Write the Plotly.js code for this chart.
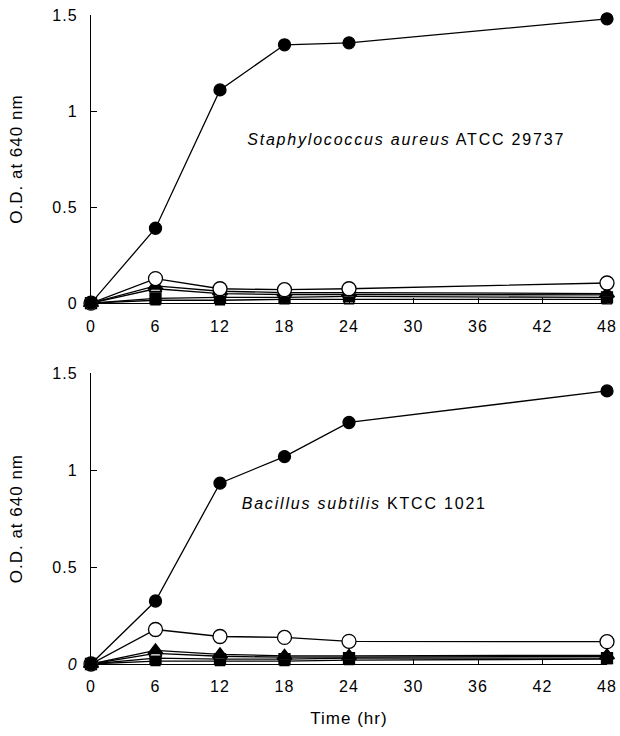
<!DOCTYPE html>
<html>
<head>
<meta charset="utf-8">
<script src="https://cdn.plot.ly/plotly-3.0.1.min.js"></script>
<style>
html,body{margin:0;padding:0;background:#fff;}
#chart{width:620px;height:736px;}
#chart svg text{letter-spacing:1px;}
#chart svg .annotation text{letter-spacing:1.8px;}
</style>
</head>
<body>
<div id="chart"></div>
<script>
// Time points (hr)
const timeHr = [0, 6, 12, 18, 24, 48];
const xTicks = [0, 6, 12, 18, 24, 30, 36, 42, 48];

// Top panel: Staphylococcus aureus ATCC 29737
const staFilledCircle = [0, 0.39, 1.11, 1.345, 1.355, 1.48];
const staOpenCircle   = [0, 0.128, 0.075, 0.07, 0.075, 0.105];
const staFilledTri    = [0, 0.09, 0.062, 0.055, 0.055, 0.05];
const staOpenTri      = [0, 0.075, 0.05, 0.045, 0.045, 0.043];
const staFilledSq     = [0, 0.025, 0.03, 0.03, 0.035, 0.03];
const staOpenSq       = [0, 0.015, 0.015, 0.02, 0.02, 0.02];

// Bottom panel: Bacillus subtilis KTCC 1021
const bacFilledCircle = [0, 0.325, 0.933, 1.07, 1.246, 1.409];
const bacOpenCircle   = [0, 0.178, 0.142, 0.137, 0.117, 0.115];
const bacFilledTri    = [0, 0.07, 0.05, 0.042, 0.042, 0.045];
const bacOpenTri      = [0, 0.055, 0.04, 0.035, 0.035, 0.04];
const bacFilledSq     = [0, 0.03, 0.025, 0.025, 0.03, 0.03];
const bacOpenSq       = [0, 0.015, 0.015, 0.015, 0.02, 0.025];

const yTicks = [0, 0.5, 1, 1.5];
const yTickTextTop = ['0', '0.5', '1', '1.5'];
const yTickTextBottom = ['<i>0</i>', '0.5', '1', '1.5'];

const FONT = '"Liberation Sans", Arial, sans-serif';

function tr(y, ax, symbol, size, fill, lw) {
  return {
    x: timeHr, y: y, xaxis: ax[0], yaxis: ax[1],
    type: 'scatter', mode: 'lines+markers', cliponaxis: false,
    line: {color: '#000', width: lw || 1.3},
    marker: {symbol: symbol, size: size, color: fill, line: {color: '#000', width: 1.3}},
    showlegend: false, hoverinfo: 'skip'
  };
}

function panel(ax, fc, oc, ft, ot, fs, os) {
  return [
    tr(os, ax, 'square', 9, '#fff'),
    tr(fs, ax, 'square', 11, '#000'),
    tr(ot, ax, 'triangle-up', 11, '#fff'),
    tr(ft, ax, 'triangle-up', 13, '#000'),
    tr(oc, ax, 'circle', 14, '#fff'),
    tr(fc, ax, 'circle', 12, '#000')
  ];
}

const data = [].concat(
  panel(['x', 'y'], staFilledCircle, staOpenCircle, staFilledTri, staOpenTri, staFilledSq, staOpenSq),
  panel(['x2', 'y2'], bacFilledCircle, bacOpenCircle, bacFilledTri, bacOpenTri, bacFilledSq, bacOpenSq)
);

const xBase = {
  range: [0, 48], tickvals: xTicks, ticktext: xTicks.map(String),
  showline: true, linecolor: '#000', linewidth: 1.2,
  ticks: 'inside', ticklen: 5, tickcolor: '#000', tickwidth: 1,
  showgrid: false, zeroline: false,
  tickfont: {family: FONT, size: 16, color: '#000'},
  ticklabelstandoff: 8
};
const yBase = {
  range: [0, 1.5], tickvals: yTicks,
  showline: true, linecolor: '#000', linewidth: 1.2,
  ticks: 'inside', ticklen: 6, tickcolor: '#000', tickwidth: 1,
  showgrid: false, zeroline: false,
  tickfont: {family: FONT, size: 16, color: '#000'},
  ticklabelstandoff: 9,
  title: {text: 'O.D. at 640 nm', font: {family: FONT, size: 17, color: '#000'}, standoff: 28}
};

const layout = {
  width: 620, height: 736,
  margin: {l: 91, r: 13, t: 15, b: 72},
  paper_bgcolor: '#fff', plot_bgcolor: '#fff',
  font: {family: FONT, color: '#000'},
  xaxis: Object.assign({}, xBase, {anchor: 'y', domain: [0, 1]}),
  yaxis: Object.assign({}, yBase, {anchor: 'x', domain: [0.556, 1], ticktext: yTickTextTop}),
  xaxis2: Object.assign({}, xBase, {anchor: 'y2', domain: [0, 1],
    title: {text: 'Time (hr)', font: {family: FONT, size: 17, color: '#000'}, standoff: 17}}),
  yaxis2: Object.assign({}, yBase, {anchor: 'x2', domain: [0, 0.448], ticktext: yTickTextBottom}),
  annotations: [
    {xref: 'x', yref: 'y', x: 17.0, y: 0.85, xanchor: 'left', yanchor: 'middle', showarrow: false,
     text: '<i>Staphylococcus aureus</i> ATCC 29737', font: {family: FONT, size: 16, color: '#000'}},
    {xref: 'x2', yref: 'y2', x: 16.1, y: 0.83, xanchor: 'left', yanchor: 'middle', showarrow: false,
     text: '<i>Bacillus subtilis</i> KTCC 1021', font: {family: FONT, size: 16, color: '#000'}}
  ]
};

Plotly.newPlot('chart', data, layout, {staticPlot: true, displayModeBar: false});
</script>
</body>
</html>
